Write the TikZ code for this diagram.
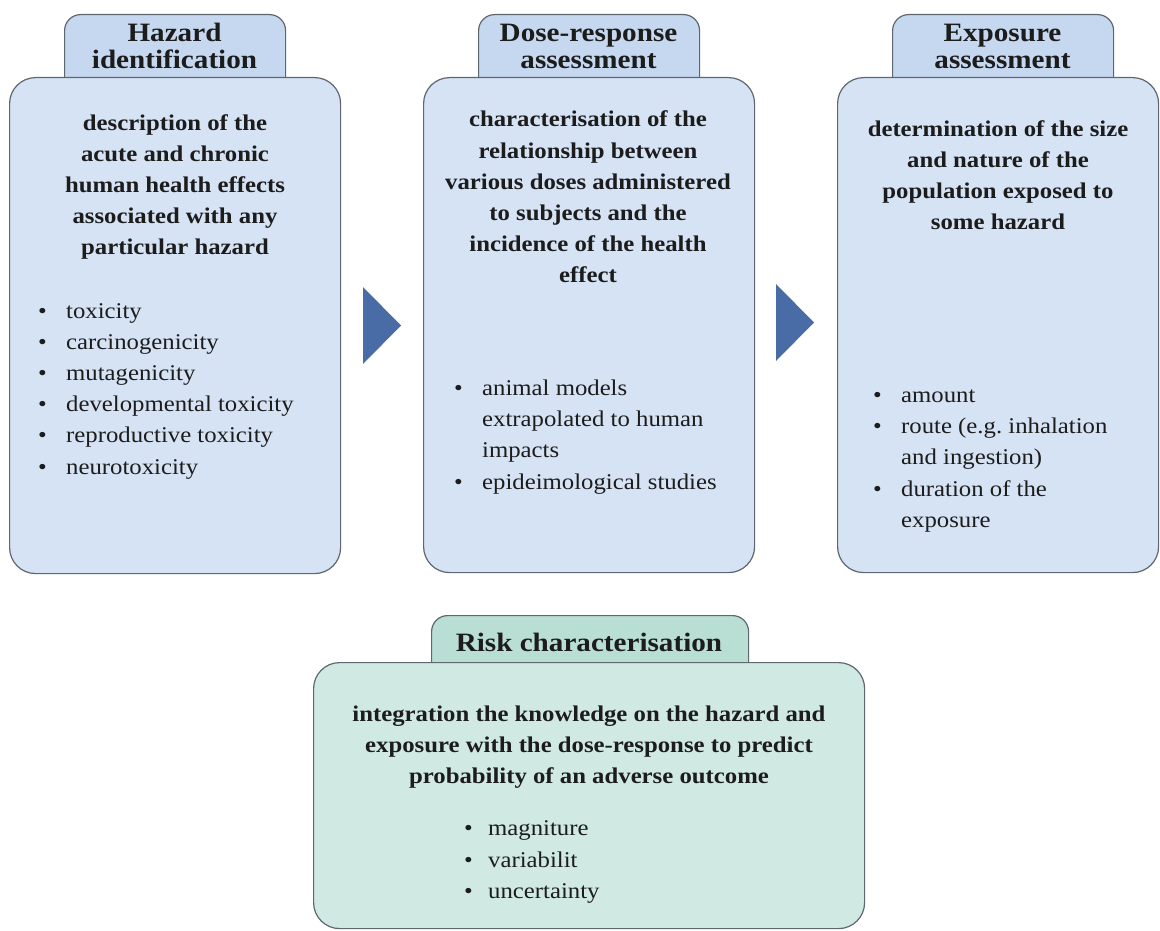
\documentclass[tikz,border=0pt]{standalone}
\usepackage{fontspec}
\setmainfont{Liberation Serif}[FakeStretch=1.1]
\frenchspacing
\definecolor{bfill}{HTML}{D6E3F4}
\definecolor{btab}{HTML}{C5D8EF}
\definecolor{gfill}{HTML}{D0EAE3}
\definecolor{gtab}{HTML}{B9DED4}
\definecolor{edge}{HTML}{5E6670}
\definecolor{arrowc}{HTML}{4A6CA6}
\definecolor{ink}{HTML}{1C1C1C}
\begin{document}
\begin{tikzpicture}[x=1pt,y=-1pt,
  mainbox/.style={draw=edge, line width=1.2pt, rounded corners=26pt, anchor=north west, inner sep=0pt},
  tabbox/.style={draw=edge, line width=1.2pt, rounded corners=16pt, anchor=north west, inner sep=0pt},
  titletxt/.style={text=ink, align=center, inner sep=0pt, font=\fontsize{26.5}{27}\selectfont\bfseries},
  bodytxt/.style={text=ink, align=center, inner sep=0pt, font=\fontsize{22.5}{31.2}\selectfont\bfseries},
  listtxt/.style={text=ink, align=left, inner sep=0pt, anchor=west, font=\fontsize{22.5}{31.2}\selectfont},
  tri/.style={fill=arrowc}
]
\useasboundingbox (0,0) rectangle (1160,931);
\newcommand{\bl}{\makebox[28pt][l]{\textbullet}}
\newcommand{\ind}{\hspace*{28pt}}
\newcommand{\blr}{\makebox[24pt][l]{\textbullet}}

% tabs
\node[tabbox, fill=btab, minimum width=221pt, minimum height=90pt] (tab1) at (64,14) {};
\node[tabbox, fill=btab, minimum width=221pt, minimum height=90pt] (tab2) at (478,14) {};
\node[tabbox, fill=btab, minimum width=221pt, minimum height=90pt] (tab3) at (892,14) {};
\node[tabbox, fill=gtab, minimum width=317pt, minimum height=80pt] (tab4) at (431,615) {};

% main boxes
\node[mainbox, fill=bfill, minimum width=331pt, minimum height=496pt] (box1) at (9,77) {};
\node[mainbox, fill=bfill, minimum width=331pt, minimum height=495pt] (box2) at (423,77) {};
\node[mainbox, fill=bfill, minimum width=321pt, minimum height=495pt] (box3) at (837,77) {};
\node[mainbox, fill=gfill, minimum width=551pt, minimum height=266pt] (box4) at (313,662) {};

% titles
\node[titletxt] (ttl1) at (174.5,46) {Hazard\\identification};
\node[titletxt] (ttl2) at (588.5,46) {Dose-response\\assessment};
\node[titletxt] (ttl3) at (1002.5,46) {Exposure\\assessment};
\node[titletxt] (ttl4) at (589,642) {Risk characterisation};

% descriptions
\node[bodytxt] (d1) at (175,187) {description of the\\acute and chronic\\human health effects\\associated with any\\particular hazard};
\node[bodytxt] (d2) at (588,197) {characterisation of the\\relationship between\\various doses administered\\to subjects and the\\incidence of the health\\effect};
\node[bodytxt] (d3) at (998,175) {determination of the size\\and nature of the\\population exposed to\\some hazard};
\node[bodytxt] (d4) at (589,747) {integration the knowledge on the hazard and\\exposure with the dose-response to predict\\probability of an adverse outcome};

% bullet lists
\node[listtxt] (l1) at (38,391) {\bl toxicity\\\bl carcinogenicity\\\bl mutagenicity\\\bl developmental toxicity\\\bl reproductive toxicity\\\bl neurotoxicity};
\node[listtxt] (l2) at (454,437) {\bl animal models\\\ind extrapolated to human\\\ind impacts\\\bl epideimological studies};
\node[listtxt] (l3) at (873,461) {\bl amount\\\bl route (e.g. inhalation\\\ind and ingestion)\\\bl duration of the\\\ind exposure};
\node[listtxt] (l4) at (464,862) {\blr magniture\\\blr variabilit\\\blr uncertainty};

% arrows
\fill[tri] (363,287) -- (401,325.5) -- (363,364) -- cycle;
\fill[tri] (776,284) -- (814,322.5) -- (776,361) -- cycle;
\end{tikzpicture}
\end{document}
